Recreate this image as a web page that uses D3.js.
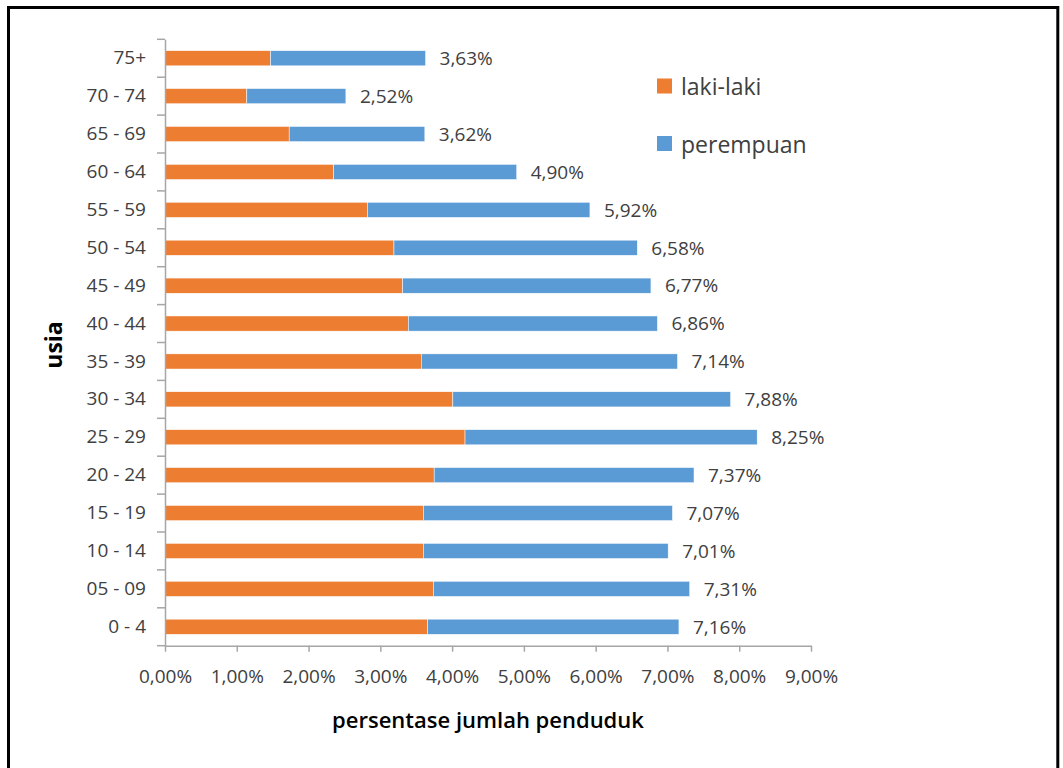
<!DOCTYPE html>
<html>
<head>
<meta charset="utf-8">
<script src="https://cdn.jsdelivr.net/npm/d3@7"></script>
<style>
  body { margin: 0; background: #fff; }
  svg { display: block; font-family: "Open Sans", "Noto Sans", sans-serif; }
</style>
</head>
<body>
<div id="bar_chart"></div>
<script>

const categories = ["75+", "70 - 74", "65 - 69", "60 - 64", "55 - 59", "50 - 54", "45 - 49", "40 - 44",
  "35 - 39", "30 - 34", "25 - 29", "20 - 24", "15 - 19", "10 - 14", "05 - 09", "0 - 4"];
const lakiLaki = [1.47, 1.14, 1.73, 2.35, 2.82, 3.19, 3.31, 3.39, 3.57, 4.01, 4.18, 3.75, 3.60, 3.60, 3.74, 3.66];
const perempuan = [2.16, 1.38, 1.89, 2.55, 3.10, 3.39, 3.46, 3.47, 3.57, 3.87, 4.07, 3.62, 3.47, 3.41, 3.57, 3.50];
const totals = [3.63, 2.52, 3.62, 4.90, 5.92, 6.58, 6.77, 6.86, 7.14, 7.88, 8.25, 7.37, 7.07, 7.01, 7.31, 7.16];
const xTicks = [0, 1, 2, 3, 4, 5, 6, 7, 8, 9];
const seriesNames = ["laki-laki", "perempuan"];

const data = categories.map((c, i) => ({ usia: c, "laki-laki": lakiLaki[i], perempuan: perempuan[i], total: totals[i] }));

const width = 1063,
  height = 768,
  margin = ({ top: 39.3, right: 252, bottom: 122.3, left: 165 });

const colors = d3.scaleOrdinal().domain(seriesNames).range(["#ED7D31", "#5B9BD5"]);
const pct = d => d.toFixed(2).replace(".", ",") + "%";

const svg = d3.select("#bar_chart")
  .append("svg")
  .attr("width", width)
  .attr("height", height)
  .attr("viewBox", [0, 0, width, height]);

// frame round the chart, runs off the bottom
svg.append("rect")
  .attr("x", 8.5).attr("y", 7.5)
  .attr("width", 1049.3).attr("height", 800)
  .attr("fill", "none")
  .attr("stroke", "#000")
  .attr("stroke-width", 3);

let x = d3.scaleLinear()
  .domain([0, 9])
  .range([margin.left, 811]);

let y = d3.scaleBand()
  .domain(categories)
  .range([margin.top, height - margin.bottom])
  .paddingInner(0.6)
  .paddingOuter(0.3);

const stacked = d3.stack().keys(seriesNames)(data);

svg.append("g")
  .selectAll("g")
  .data(stacked)
  .join("g")
    .attr("fill", d => colors(d.key))
  .selectAll("rect")
  .data(d => d)
  .join("rect")
    .attr("x", d => x(d[0]))
    .attr("y", d => y(d.data.usia))
    .attr("width", d => x(d[1]) - x(d[0]))
    .attr("height", y.bandwidth())
    .attr("stroke", "#fff")
    .attr("stroke-width", 0.5);

// x axis
const xAxis = svg.append("g")
  .attr("transform", `translate(0,${height - margin.bottom})`)
  .call(d3.axisBottom(x)
    .tickValues(xTicks)
    .tickFormat(pct)
    .tickSize(6)
    .tickSizeOuter(0)
    .tickPadding(18));
xAxis.select(".domain").attr("stroke", "#a6a6a6").attr("stroke-width", 1.5);
xAxis.selectAll(".tick line").attr("stroke", "#a6a6a6").attr("stroke-width", 1.5);
xAxis.selectAll(".tick text")
  .attr("font-size", 19)
  .attr("font-family", "Open Sans")
  .attr("fill", "#404040");

// y axis, ticks sit between the bands
const yAxis = svg.append("g")
  .attr("transform", `translate(${margin.left},0)`)
  .call(d3.axisLeft(y).tickSize(0).tickPadding(19));
yAxis.select(".domain").attr("stroke", "#a6a6a6").attr("stroke-width", 1.5);
yAxis.selectAll(".tick text")
  .attr("font-size", 19)
  .attr("font-family", "Open Sans")
  .attr("fill", "#404040");

const gap = (y.step() - y.bandwidth()) / 2;
const bounds = categories.map(c => y(c) - gap).concat([y(categories[categories.length - 1]) + y.bandwidth() + gap]);
yAxis.selectAll(".bound")
  .data(bounds)
  .join("line")
    .attr("class", "bound")
    .attr("x1", -8).attr("x2", 0)
    .attr("y1", d => d).attr("y2", d => d)
    .attr("stroke", "#a6a6a6")
    .attr("stroke-width", 1.5);

// total labels at the end of each bar
svg.append("g")
  .selectAll("text")
  .data(data)
  .join("text")
    .attr("x", d => x(d.total) + 14)
    .attr("y", d => y(d.usia) + y.bandwidth() / 2)
    .attr("dy", "0.36em")
    .attr("font-size", 19)
    .attr("fill", "#404040")
    .text(d => pct(d.total));

svg.append("text")
  .attr("class", "x-label")
  .attr("text-anchor", "middle")
  .attr("x", (x(0) + x(9)) / 2)
  .attr("y", 728)
  .attr("font-size", 22)
  .attr("font-weight", 600)
  .attr("fill", "#000")
  .text("persentase jumlah penduduk");

svg.append("text")
  .attr("class", "y-label")
  .attr("text-anchor", "middle")
  .attr("transform", "translate(62,345) rotate(-90)")
  .attr("font-size", 23)
  .attr("font-weight", 700)
  .attr("fill", "#000")
  .text("usia");

// legend
const legend = svg.append("g")
  .selectAll("g")
  .data(seriesNames)
  .join("g")
    .attr("transform", (d, i) => `translate(657,${78.5 + i * 57.5})`);
legend.append("rect")
  .attr("width", 15).attr("height", 15)
  .attr("fill", d => colors(d));
legend.append("text")
  .attr("x", 24)
  .attr("y", 16.5)
  .attr("font-size", 23)
  .attr("fill", "#404040")
  .text(d => d);

</script>
</body>
</html>
